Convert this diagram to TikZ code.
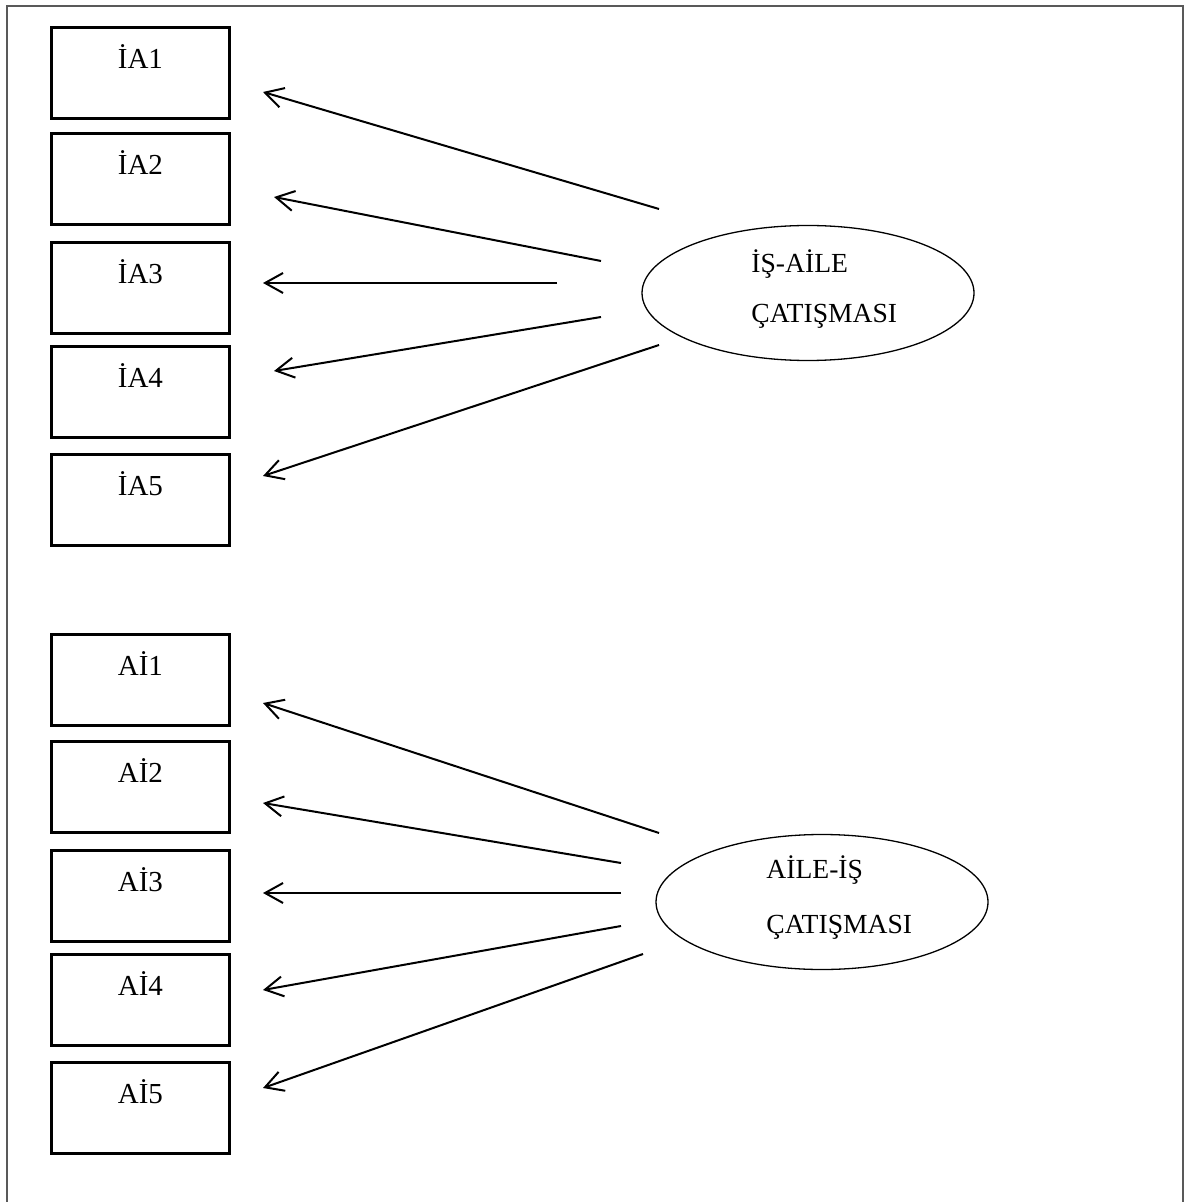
\documentclass[tikz,border=0pt]{standalone}
\usepackage{fontspec}
\setmainfont{Liberation Serif}
\usetikzlibrary{arrows.meta,shapes.geometric}

\begin{document}
\begin{tikzpicture}[x=0.5pt,y=-0.5pt,
  frame/.style={draw=black!65,line width=1pt},
  itembox/.style={draw,line width=1.4pt,rectangle,inner sep=0pt,anchor=north west,
    minimum width=89pt,text height=20.5pt,text depth=25pt,
    font=\fontsize{14.5}{16}\selectfont},
  latent/.style={draw,line width=0.65pt,ellipse,inner sep=0pt,
    minimum width=166pt,minimum height=67.5pt},
  lattext/.style={anchor=base west,inner sep=0pt,font=\fontsize{13.8}{16}\selectfont},
  loading/.style={line width=1pt,-{Straight Barb[length=9pt,width=10pt]}}
]
\useasboundingbox (0,0) rectangle (1184,1202);
\fill[white] (0,0) rectangle (1184,1202);

% outer frame, open at the foot of the page
\draw[frame] (7,1202) -- (7,6) -- (1182.5,6) -- (1182.5,1202);

% indicators of work-family conflict
\node[itembox] (ia1) at (50,26)  {İA1};
\node[itembox] (ia2) at (50,132) {İA2};
\node[itembox] (ia3) at (50,241) {İA3};
\node[itembox] (ia4) at (50,345) {İA4};
\node[itembox] (ia5) at (50,453) {İA5};

% indicators of family-work conflict
\node[itembox] (ai1) at (50,633)  {Aİ1};
\node[itembox] (ai2) at (50,740)  {Aİ2};
\node[itembox] (ai3) at (50,849)  {Aİ3};
\node[itembox] (ai4) at (50,953)  {Aİ4};
\node[itembox] (ai5) at (50,1061) {Aİ5};

% latent factors
\node[latent] (isaile) at (808,293) {};
\node[lattext] (isaileA) at (751,273) {İŞ-AİLE};
\node[lattext] (isaileB) at (751,323) {ÇATIŞMASI};

\node[latent] (aileis) at (822,902) {};
\node[lattext] (aileisA) at (766,878) {AİLE-İŞ};
\node[lattext] (aileisB) at (766,933) {ÇATIŞMASI};

% loading arrows, first factor
\coordinate (s1) at (659,209); \coordinate (t1) at (263,92);
\coordinate (s2) at (601,261); \coordinate (t2) at (274,197);
\coordinate (s3) at (557,283); \coordinate (t3) at (263,283);
\coordinate (s4) at (601,317); \coordinate (t4) at (274,371);
\coordinate (s5) at (659,345); \coordinate (t5) at (263,476);
\foreach \i in {1,...,5} \draw[loading] (s\i) -- (t\i);

% loading arrows, second factor
\coordinate (u1) at (659,833); \coordinate (v1) at (263,703);
\coordinate (u2) at (621,863); \coordinate (v2) at (263,803);
\coordinate (u3) at (621,893); \coordinate (v3) at (263,893);
\coordinate (u4) at (621,926); \coordinate (v4) at (263,990);
\coordinate (u5) at (643,954); \coordinate (v5) at (263,1088);
\foreach \i in {1,...,5} \draw[loading] (u\i) -- (v\i);
\end{tikzpicture}
\end{document}
